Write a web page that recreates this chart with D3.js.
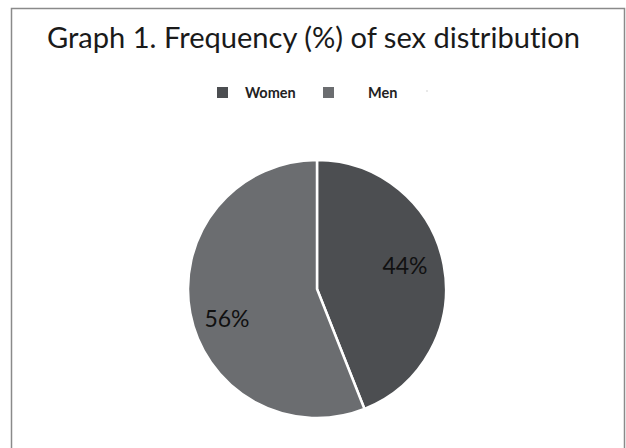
<!DOCTYPE html>
<html><head><meta charset="utf-8">
<script src="https://cdn.jsdelivr.net/npm/d3@7"></script>
<style>body{margin:0;background:#fff}svg{display:block}text{font-variant-ligatures:none}</style>
</head><body>
<script>
const categories = ["Women", "Men"];
const values = [44, 56];
const labels = ["44%", "56%"];
const colors = ["#4c4e51", "#6b6d70"];

const W = 626, H = 448;
const svg = d3.select("body").append("svg").attr("width", W).attr("height", H);
svg.append("rect").attr("width", W).attr("height", H).attr("fill", "#fff");

// frame (no bottom edge visible)
svg.append("path").attr("d", `M11.5,${H} V8.5 H624.5 V${H}`)
  .attr("fill", "none").attr("stroke", "#8a8a8a").attr("stroke-width", 1.5);

svg.append("text").attr("x", 313.5).attr("y", 48).attr("text-anchor", "middle")
  .attr("font-family", "Lato, sans-serif").attr("font-size", 29.1).attr("fill", "#1a1a1a")
  .text("Graph 1. Frequency (%) of sex distribution");

// legend
const leg = [{x: 217, tx: 245}, {x: 323, tx: 368}];
categories.forEach((c, i) => {
  svg.append("rect").attr("x", leg[i].x).attr("y", 87).attr("width", 11).attr("height", 11)
    .attr("fill", colors[i]);
  svg.append("text").attr("x", leg[i].tx).attr("y", 97.5).attr("font-family", "Lato, sans-serif")
    .attr("font-size", 14.5).attr("font-weight", 700).attr("fill", "#222").text(c);
});
svg.append("circle").attr("cx", 427).attr("cy", 91).attr("r", 0.8).attr("fill", "#ccc");

const cx = 317, cy = 289, r = 129;
const pie = d3.pie().sort(null)(values);
const arc = d3.arc().innerRadius(0).outerRadius(r);
const g = svg.append("g").attr("transform", `translate(${cx},${cy})`);
g.selectAll("path").data(pie).join("path")
  .attr("d", arc).attr("fill", (d, i) => colors[i])
  .attr("stroke", "#fff").attr("stroke-width", 2.5).attr("stroke-linejoin", "round");

const labelPos = [[88, -24], [-90, 29]];
g.selectAll("text.lbl").data(pie).join("text").attr("class", "lbl")
  .attr("x", (d, i) => labelPos[i][0]).attr("y", (d, i) => labelPos[i][1])
  .attr("text-anchor", "middle").attr("dominant-baseline", "central")
  .attr("font-family", "Lato, sans-serif").attr("font-size", 23).attr("fill", "#111")
  .text((d, i) => labels[i]);
</script>
</body></html>
